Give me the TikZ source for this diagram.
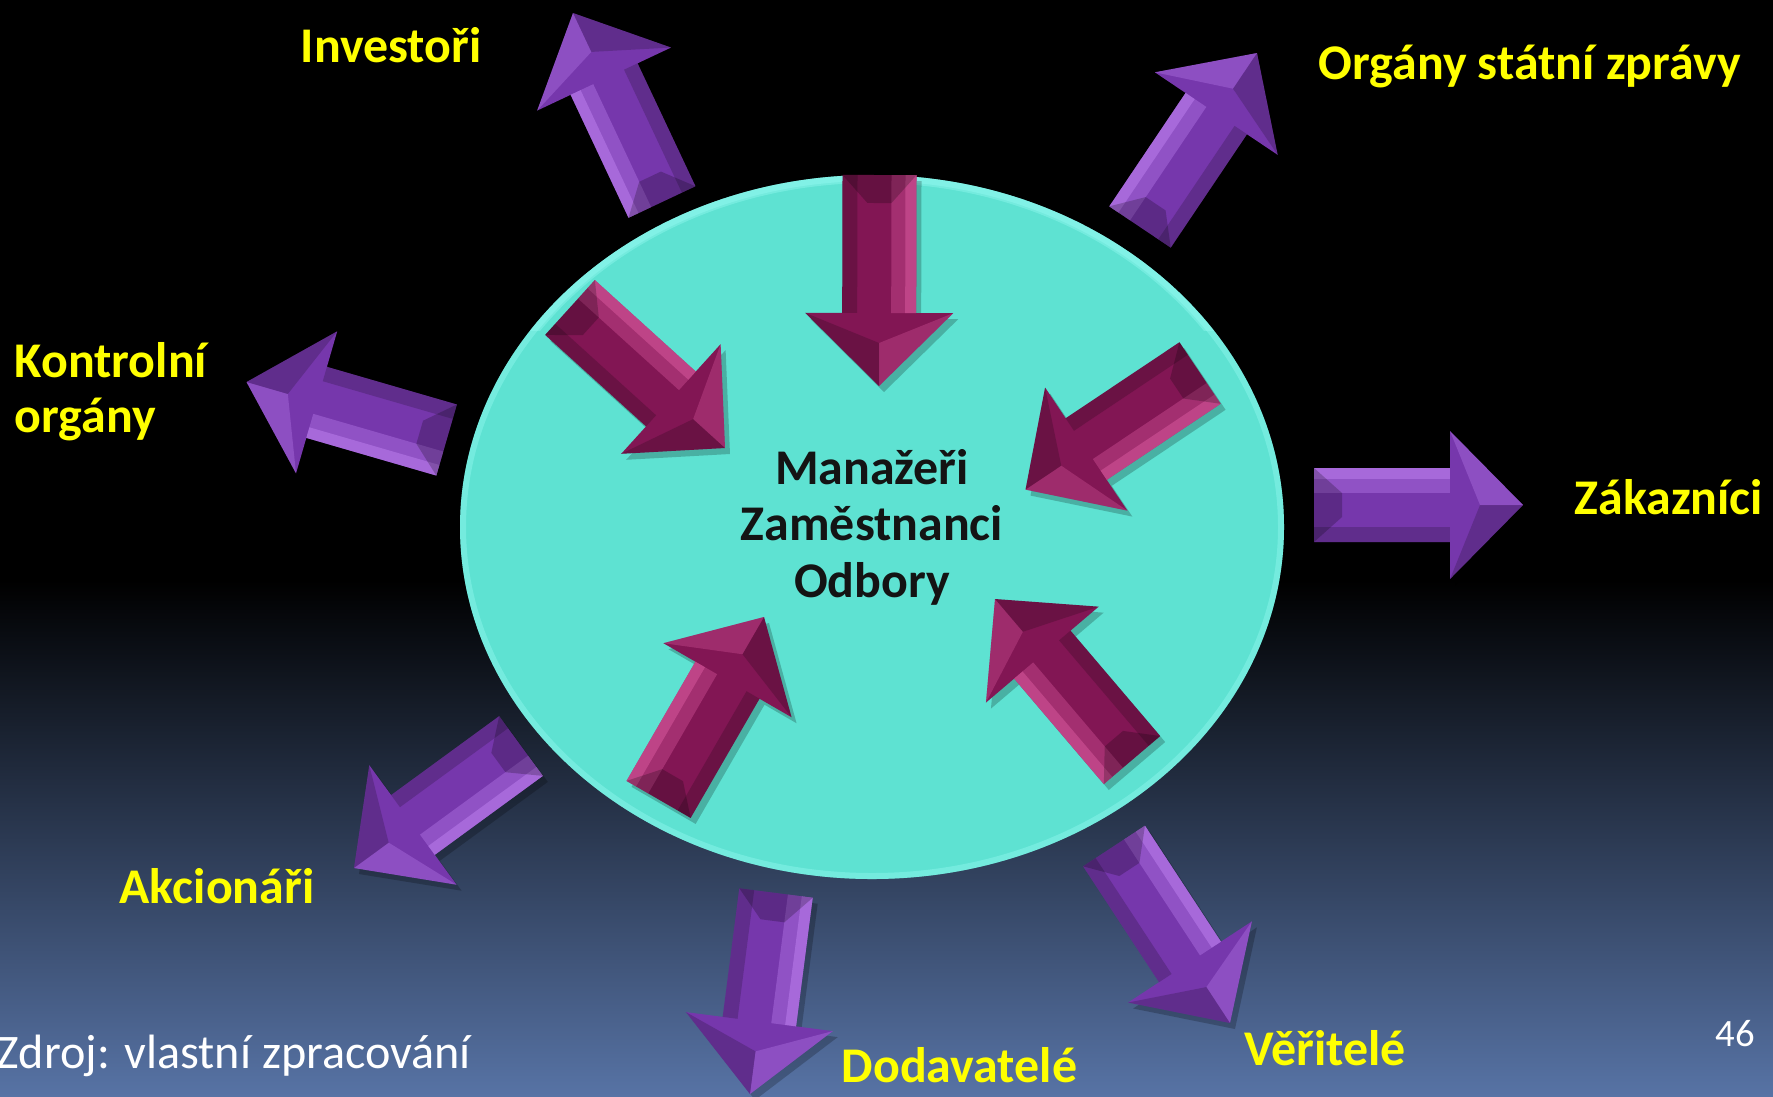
\documentclass[tikz,border=0pt]{standalone}
\usepackage{fontspec}
\setmainfont{Carlito}
\definecolor{bgbot}{RGB}{87,115,165}
\definecolor{turq}{RGB}{94,226,210}
\definecolor{turqlight}{RGB}{150,250,242}
\definecolor{purp}{RGB}{118,55,172}
\definecolor{purplight}{RGB}{195,135,245}
\definecolor{mag}{RGB}{130,22,84}
\definecolor{maglight}{RGB}{225,95,165}
\definecolor{lblyellow}{RGB}{255,255,0}
\definecolor{ctext}{RGB}{20,20,20}
% #1,#2 tail (px); #3,#4 tip (px); #5 base colour; #6 light colour
\newcommand\blockarrow[6]{%
  \pgfmathsetmacro\bdx{(#3)-(#1)}%
  \pgfmathsetmacro\bdy{(#2)-(#4)}%
  \pgfmathsetmacro\bang{atan2(\bdy,\bdx)}%
  \pgfmathsetmacro\blen{veclen(\bdx,\bdy)}%
  \pgfmathsetmacro\bneck{\blen-73}%
  \pgfmathsetmacro\bmid{\bneck+30}%
  \begin{scope}[shift={(#1+5,#2+6)},rotate=\bang]
    \fill[black,opacity=.22] (0,-37) -- (\bneck,-37) -- (\bneck,-74) -- (\blen,0) -- (\bneck,74) -- (\bneck,37) -- (0,37) -- cycle;
  \end{scope}
  \begin{scope}[shift={(#1,#2)},rotate=\bang]
    \fill[#5] (0,-37) -- (\bneck,-37) -- (\bneck,-74) -- (\blen,0) -- (\bneck,74) -- (\bneck,37) -- (0,37) -- cycle;
    \fill[#6,opacity=.35] (0,-37) -- (\bneck,-37) -- (\bneck,-12) -- (0,-12) -- cycle;
    \fill[#6,opacity=.45] (0,-37) -- (\bneck,-37) -- (\bneck,-26) -- (0,-26) -- cycle;
    \fill[black,opacity=.18] (0,37) -- (\bneck,37) -- (\bneck,22) -- (0,22) -- cycle;
    \fill[black,opacity=.22] (0,-37) -- (0,37) -- (28,12) -- (28,-12) -- cycle;
    \fill[#6,opacity=.3] (\bneck,-74) -- (\blen,0) -- (\bmid,0) -- cycle;
    \fill[black,opacity=.18] (\bneck,74) -- (\blen,0) -- (\bmid,0) -- cycle;
  \end{scope}}
\tikzset{
  lbl/.style={text=lblyellow, inner sep=0pt, font=\fontsize{14.2pt}{16pt}\selectfont\bfseries},
  ctr/.style={text=ctext, inner sep=0pt, font=\fontsize{14.2pt}{16pt}\selectfont\bfseries},
  src/.style={text=white, inner sep=0pt, font=\fontsize{13.7pt}{16pt}\selectfont},
  pnum/.style={text=white, inner sep=0pt, font=\fontsize{11pt}{13pt}\selectfont},
}
\begin{document}
\begin{tikzpicture}[x=0.01cm,y=-0.01cm]
\useasboundingbox (0,0) rectangle (1773,1096);
% background
\fill[black] (0,0) rectangle (1773,582);
\shade[top color=black, bottom color=bgbot] (0,580) rectangle (1773,1096);
% central ellipse
\fill[turq] (872,527) ellipse [x radius=412, y radius=352];
\begin{scope}
  \clip (872,527) ellipse [x radius=412, y radius=352];
  \draw[turqlight, line width=0.12cm, opacity=.4] (872,527) ellipse [x radius=412, y radius=352];
  \clip (0,0) rectangle (1773,330);
  \draw[turqlight, line width=0.16cm, opacity=.4] (872,527) ellipse [x radius=412, y radius=352];
\end{scope}
% outward arrows (purple)
\blockarrow{662}{202}{573}{13}{purp}{purplight}
\blockarrow{1140}{227}{1257}{53}{purp}{purplight}
\blockarrow{446.6}{440}{246.5}{382}{purp}{purplight}
\blockarrow{1314}{505}{1523}{505}{purp}{purplight}
\blockarrow{521}{746}{354}{868}{purp}{purplight}
\blockarrow{776}{893}{750}{1094}{purp}{purplight}
\blockarrow{1114}{846}{1230}{1023}{purp}{purplight}
% inward arrows (magenta)
\blockarrow{879.5}{175}{879}{386}{mag}{maglight}
\blockarrow{570}{307.5}{725}{448}{mag}{maglight}
\blockarrow{1200}{373}{1025.5}{489.6}{mag}{maglight}
\blockarrow{658.6}{799.4}{764}{617}{mag}{maglight}
\blockarrow{1132}{760}{995}{599}{mag}{maglight}
% labels
\node[lbl, anchor=base west] (investori) at (300,62) {Investoři};
\node[lbl, anchor=base west] (organy) at (1318,79) {Orgány státní zprávy};
\node[lbl, anchor=base west] (kontrol1) at (14,377) {Kontrolní};
\node[lbl, anchor=base west] (kontrol2) at (14,432) {orgány};
\node[lbl, anchor=base west] (zakaznici) at (1574,514) {Zákazníci};
\node[lbl, anchor=base west] (akcionari) at (119,903) {Akcionáři};
\node[lbl, anchor=base west] (dodavatele) at (841,1082) {Dodavatelé};
\node[lbl, anchor=base west] (veritele) at (1244,1065) {Věřitelé};
% centre text
\node[ctr, anchor=base] (manazeri) at (872,484) {Manažeři};
\node[ctr, anchor=base] (zamestnanci) at (872,540) {Zaměstnanci};
\node[ctr, anchor=base] (odbory) at (872,597) {Odbory};
% source and page number
\node[src, anchor=base west] (zdroj) at (-4,1068) {Zdroj: vlastní zpracování};
\node[pnum, anchor=base west] (pagenum) at (1715,1046) {46};
\end{tikzpicture}
\end{document}
